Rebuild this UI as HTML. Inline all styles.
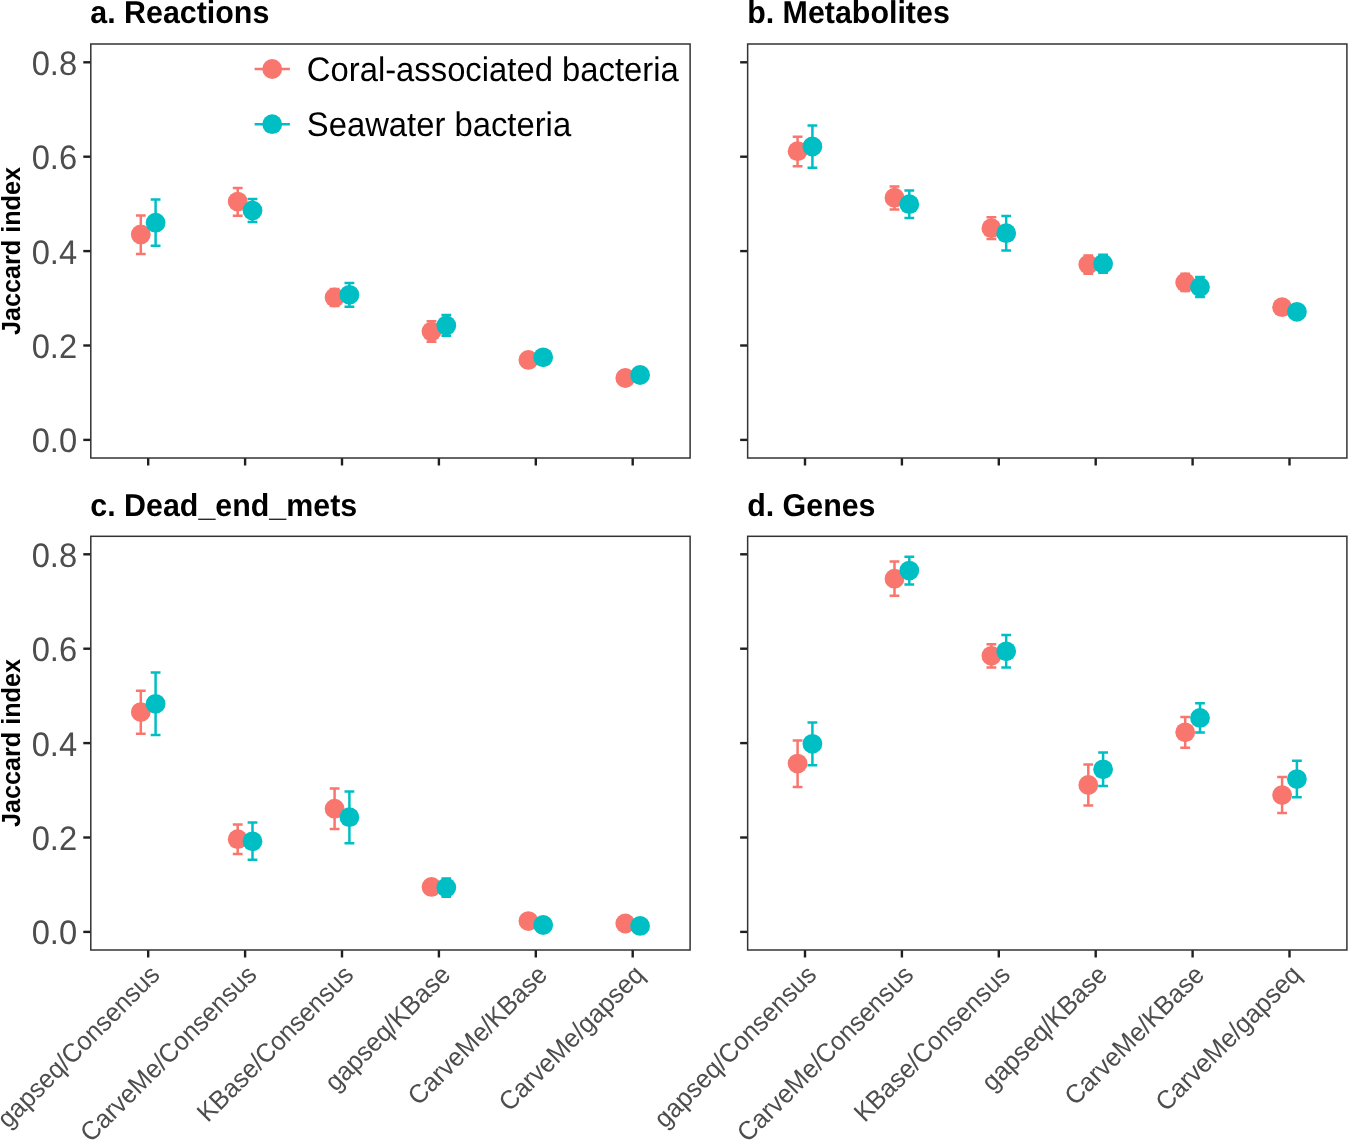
<!DOCTYPE html>
<html><head><meta charset="utf-8"><style>
html,body{margin:0;padding:0;background:#fff;}
svg{display:block;will-change:transform;}
text{font-family:"Liberation Sans",sans-serif;text-rendering:geometricPrecision;}
.ttl{font-size:30.4px;font-weight:bold;fill:#000;}
.ax{font-size:32.7px;fill:#4D4D4D;}
.xl{font-size:25.3px;fill:#4D4D4D;}
.yt{font-size:25.2px;font-weight:bold;fill:#000;}
.lg{font-size:32.8px;fill:#000;}
.tk{stroke:#1f1f1f;stroke-width:2.4;}
.bd{fill:none;stroke:#333;stroke-width:1.5;}
.eb path{fill:none;stroke-width:2.5;}
</style></head><body>
<svg width="1350" height="1141" viewBox="0 0 1350 1141">
<rect width="1350" height="1141" fill="#fff"/>
<text transform="translate(90.3 23.2) scale(1 1.04)" class="ttl">a. Reactions</text>
<line x1="83.3" y1="439.9" x2="90.8" y2="439.9" class="tk"/>
<text transform="translate(77.1 452.45) scale(1 1.04)" class="ax" text-anchor="end">0.0</text>
<line x1="83.3" y1="345.5" x2="90.8" y2="345.5" class="tk"/>
<text transform="translate(77.1 358.05) scale(1 1.04)" class="ax" text-anchor="end">0.2</text>
<line x1="83.3" y1="251.1" x2="90.8" y2="251.1" class="tk"/>
<text transform="translate(77.1 263.65) scale(1 1.04)" class="ax" text-anchor="end">0.4</text>
<line x1="83.3" y1="156.7" x2="90.8" y2="156.7" class="tk"/>
<text transform="translate(77.1 169.25) scale(1 1.04)" class="ax" text-anchor="end">0.6</text>
<line x1="83.3" y1="62.3" x2="90.8" y2="62.3" class="tk"/>
<text transform="translate(77.1 74.85) scale(1 1.04)" class="ax" text-anchor="end">0.8</text>
<line x1="148.2" y1="458" x2="148.2" y2="465.5" class="tk"/>
<line x1="245.1" y1="458" x2="245.1" y2="465.5" class="tk"/>
<line x1="342" y1="458" x2="342" y2="465.5" class="tk"/>
<line x1="438.9" y1="458" x2="438.9" y2="465.5" class="tk"/>
<line x1="535.8" y1="458" x2="535.8" y2="465.5" class="tk"/>
<line x1="632.7" y1="458" x2="632.7" y2="465.5" class="tk"/>
<g class="eb"><path d="M135.9 215.4H145.7M140.8 215.4V254M135.9 254H145.7" stroke="#F8766D"/><path d="M150.7 199.5H160.5M155.6 199.5V245.8M150.7 245.8H160.5" stroke="#00BFC4"/><path d="M232.8 187.9H242.6M237.7 187.9V215.8M232.8 215.8H242.6" stroke="#F8766D"/><path d="M247.6 199.1H257.4M252.5 199.1V222.1M247.6 222.1H257.4" stroke="#00BFC4"/><path d="M329.7 288.9H339.5M334.6 288.9V306M329.7 306H339.5" stroke="#F8766D"/><path d="M344.5 282.9H354.3M349.4 282.9V306.8M344.5 306.8H354.3" stroke="#00BFC4"/><path d="M426.6 321.2H436.4M431.5 321.2V341.7M426.6 341.7H436.4" stroke="#F8766D"/><path d="M441.4 315H451.2M446.3 315V335.8M441.4 335.8H451.2" stroke="#00BFC4"/></g>
<circle cx="140.8" cy="234.4" r="9.9" fill="#F8766D"/>
<circle cx="237.7" cy="201.6" r="9.9" fill="#F8766D"/>
<circle cx="334.6" cy="297.4" r="9.9" fill="#F8766D"/>
<circle cx="431.5" cy="331.6" r="9.9" fill="#F8766D"/>
<circle cx="528.4" cy="359.9" r="9.9" fill="#F8766D"/>
<circle cx="625.3" cy="378" r="9.9" fill="#F8766D"/>
<circle cx="155.6" cy="222.7" r="9.9" fill="#00BFC4"/>
<circle cx="252.5" cy="210.5" r="9.9" fill="#00BFC4"/>
<circle cx="349.4" cy="294.8" r="9.9" fill="#00BFC4"/>
<circle cx="446.3" cy="325.5" r="9.9" fill="#00BFC4"/>
<circle cx="543.2" cy="357.3" r="9.9" fill="#00BFC4"/>
<circle cx="640.1" cy="375" r="9.9" fill="#00BFC4"/>
<rect x="90.8" y="44" width="599.3" height="414" class="bd"/>
<text transform="translate(747.15 23.2) scale(1 1.04)" class="ttl">b. Metabolites</text>
<line x1="740.15" y1="439.9" x2="747.65" y2="439.9" class="tk"/>
<line x1="740.15" y1="345.5" x2="747.65" y2="345.5" class="tk"/>
<line x1="740.15" y1="251.1" x2="747.65" y2="251.1" class="tk"/>
<line x1="740.15" y1="156.7" x2="747.65" y2="156.7" class="tk"/>
<line x1="740.15" y1="62.3" x2="747.65" y2="62.3" class="tk"/>
<line x1="805" y1="458" x2="805" y2="465.5" class="tk"/>
<line x1="901.9" y1="458" x2="901.9" y2="465.5" class="tk"/>
<line x1="998.8" y1="458" x2="998.8" y2="465.5" class="tk"/>
<line x1="1095.7" y1="458" x2="1095.7" y2="465.5" class="tk"/>
<line x1="1192.6" y1="458" x2="1192.6" y2="465.5" class="tk"/>
<line x1="1289.5" y1="458" x2="1289.5" y2="465.5" class="tk"/>
<g class="eb"><path d="M792.7 136.7H802.5M797.6 136.7V166.3M792.7 166.3H802.5" stroke="#F8766D"/><path d="M807.5 125.4H817.3M812.4 125.4V167.7M807.5 167.7H817.3" stroke="#00BFC4"/><path d="M889.6 186.4H899.4M894.5 186.4V209.6M889.6 209.6H899.4" stroke="#F8766D"/><path d="M904.4 190.6H914.2M909.3 190.6V218.1M904.4 218.1H914.2" stroke="#00BFC4"/><path d="M986.5 217.2H996.3M991.4 217.2V239.1M986.5 239.1H996.3" stroke="#F8766D"/><path d="M1001.3 216H1011.1M1006.2 216V250.4M1001.3 250.4H1011.1" stroke="#00BFC4"/><path d="M1083.4 255.6H1093.2M1088.3 255.6V273.7M1083.4 273.7H1093.2" stroke="#F8766D"/><path d="M1098.2 254.7H1108M1103.1 254.7V272.8M1098.2 272.8H1108" stroke="#00BFC4"/><path d="M1180.3 273.8H1190.1M1185.2 273.8V291M1180.3 291H1190.1" stroke="#F8766D"/><path d="M1195.1 277H1204.9M1200 277V297M1195.1 297H1204.9" stroke="#00BFC4"/></g>
<circle cx="797.6" cy="151.2" r="9.9" fill="#F8766D"/>
<circle cx="894.5" cy="197.7" r="9.9" fill="#F8766D"/>
<circle cx="991.4" cy="228.2" r="9.9" fill="#F8766D"/>
<circle cx="1088.3" cy="264.6" r="9.9" fill="#F8766D"/>
<circle cx="1185.2" cy="282.4" r="9.9" fill="#F8766D"/>
<circle cx="1282.1" cy="307.2" r="9.9" fill="#F8766D"/>
<circle cx="812.4" cy="146.5" r="9.9" fill="#00BFC4"/>
<circle cx="909.3" cy="204.2" r="9.9" fill="#00BFC4"/>
<circle cx="1006.2" cy="233.2" r="9.9" fill="#00BFC4"/>
<circle cx="1103.1" cy="263.8" r="9.9" fill="#00BFC4"/>
<circle cx="1200" cy="287" r="9.9" fill="#00BFC4"/>
<circle cx="1296.9" cy="311.8" r="9.9" fill="#00BFC4"/>
<rect x="747.65" y="44" width="599.25" height="414" class="bd"/>
<text transform="translate(90.3 515.5) scale(1 1.04)" class="ttl">c. Dead_end_mets</text>
<line x1="83.3" y1="931.9" x2="90.8" y2="931.9" class="tk"/>
<text transform="translate(77.1 944.45) scale(1 1.04)" class="ax" text-anchor="end">0.0</text>
<line x1="83.3" y1="837.5" x2="90.8" y2="837.5" class="tk"/>
<text transform="translate(77.1 850.05) scale(1 1.04)" class="ax" text-anchor="end">0.2</text>
<line x1="83.3" y1="743.1" x2="90.8" y2="743.1" class="tk"/>
<text transform="translate(77.1 755.65) scale(1 1.04)" class="ax" text-anchor="end">0.4</text>
<line x1="83.3" y1="648.7" x2="90.8" y2="648.7" class="tk"/>
<text transform="translate(77.1 661.25) scale(1 1.04)" class="ax" text-anchor="end">0.6</text>
<line x1="83.3" y1="554.3" x2="90.8" y2="554.3" class="tk"/>
<text transform="translate(77.1 566.85) scale(1 1.04)" class="ax" text-anchor="end">0.8</text>
<line x1="148.2" y1="950" x2="148.2" y2="957.5" class="tk"/>
<text class="xl" text-anchor="end" transform="translate(161.2 976.2) rotate(-45) scale(1 1.04)">gapseq/Consensus</text>
<line x1="245.1" y1="950" x2="245.1" y2="957.5" class="tk"/>
<text class="xl" text-anchor="end" transform="translate(258.1 976.2) rotate(-45) scale(1 1.04)">CarveMe/Consensus</text>
<line x1="342" y1="950" x2="342" y2="957.5" class="tk"/>
<text class="xl" text-anchor="end" transform="translate(355 976.2) rotate(-45) scale(1 1.04)">KBase/Consensus</text>
<line x1="438.9" y1="950" x2="438.9" y2="957.5" class="tk"/>
<text class="xl" text-anchor="end" transform="translate(451.9 976.2) rotate(-45) scale(1 1.04)">gapseq/KBase</text>
<line x1="535.8" y1="950" x2="535.8" y2="957.5" class="tk"/>
<text class="xl" text-anchor="end" transform="translate(548.8 976.2) rotate(-45) scale(1 1.04)">CarveMe/KBase</text>
<line x1="632.7" y1="950" x2="632.7" y2="957.5" class="tk"/>
<text class="xl" text-anchor="end" transform="translate(645.7 976.2) rotate(-45) scale(1 1.04)">CarveMe/gapseq</text>
<g class="eb"><path d="M135.9 690.8H145.7M140.8 690.8V733.7M135.9 733.7H145.7" stroke="#F8766D"/><path d="M150.7 672.5H160.5M155.6 672.5V735.1M150.7 735.1H160.5" stroke="#00BFC4"/><path d="M232.8 824.4H242.6M237.7 824.4V854M232.8 854H242.6" stroke="#F8766D"/><path d="M247.6 822.5H257.4M252.5 822.5V859.7M247.6 859.7H257.4" stroke="#00BFC4"/><path d="M329.7 788.4H339.5M334.6 788.4V828.9M329.7 828.9H339.5" stroke="#F8766D"/><path d="M344.5 791.5H354.3M349.4 791.5V843.3M344.5 843.3H354.3" stroke="#00BFC4"/><path d="M441.4 878.5H451.2M446.3 878.5V896.7M441.4 896.7H451.2" stroke="#00BFC4"/></g>
<circle cx="140.8" cy="712.1" r="9.9" fill="#F8766D"/>
<circle cx="237.7" cy="839.2" r="9.9" fill="#F8766D"/>
<circle cx="334.6" cy="808.7" r="9.9" fill="#F8766D"/>
<circle cx="431.5" cy="886.9" r="9.9" fill="#F8766D"/>
<circle cx="528.4" cy="921.1" r="9.9" fill="#F8766D"/>
<circle cx="625.3" cy="923.5" r="9.9" fill="#F8766D"/>
<circle cx="155.6" cy="703.8" r="9.9" fill="#00BFC4"/>
<circle cx="252.5" cy="841.3" r="9.9" fill="#00BFC4"/>
<circle cx="349.4" cy="817.2" r="9.9" fill="#00BFC4"/>
<circle cx="446.3" cy="887.6" r="9.9" fill="#00BFC4"/>
<circle cx="543.2" cy="925" r="9.9" fill="#00BFC4"/>
<circle cx="640.1" cy="925.9" r="9.9" fill="#00BFC4"/>
<rect x="90.8" y="536.3" width="599.3" height="413.7" class="bd"/>
<text transform="translate(747.15 515.5) scale(1 1.04)" class="ttl">d. Genes</text>
<line x1="740.15" y1="931.9" x2="747.65" y2="931.9" class="tk"/>
<line x1="740.15" y1="837.5" x2="747.65" y2="837.5" class="tk"/>
<line x1="740.15" y1="743.1" x2="747.65" y2="743.1" class="tk"/>
<line x1="740.15" y1="648.7" x2="747.65" y2="648.7" class="tk"/>
<line x1="740.15" y1="554.3" x2="747.65" y2="554.3" class="tk"/>
<line x1="805" y1="950" x2="805" y2="957.5" class="tk"/>
<text class="xl" text-anchor="end" transform="translate(818 976.2) rotate(-45) scale(1 1.04)">gapseq/Consensus</text>
<line x1="901.9" y1="950" x2="901.9" y2="957.5" class="tk"/>
<text class="xl" text-anchor="end" transform="translate(914.9 976.2) rotate(-45) scale(1 1.04)">CarveMe/Consensus</text>
<line x1="998.8" y1="950" x2="998.8" y2="957.5" class="tk"/>
<text class="xl" text-anchor="end" transform="translate(1011.8 976.2) rotate(-45) scale(1 1.04)">KBase/Consensus</text>
<line x1="1095.7" y1="950" x2="1095.7" y2="957.5" class="tk"/>
<text class="xl" text-anchor="end" transform="translate(1108.7 976.2) rotate(-45) scale(1 1.04)">gapseq/KBase</text>
<line x1="1192.6" y1="950" x2="1192.6" y2="957.5" class="tk"/>
<text class="xl" text-anchor="end" transform="translate(1205.6 976.2) rotate(-45) scale(1 1.04)">CarveMe/KBase</text>
<line x1="1289.5" y1="950" x2="1289.5" y2="957.5" class="tk"/>
<text class="xl" text-anchor="end" transform="translate(1302.5 976.2) rotate(-45) scale(1 1.04)">CarveMe/gapseq</text>
<g class="eb"><path d="M792.7 740.6H802.5M797.6 740.6V786.9M792.7 786.9H802.5" stroke="#F8766D"/><path d="M807.5 722.6H817.3M812.4 722.6V765.2M807.5 765.2H817.3" stroke="#00BFC4"/><path d="M889.6 561.5H899.4M894.5 561.5V595.7M889.6 595.7H899.4" stroke="#F8766D"/><path d="M904.4 556.7H914.2M909.3 556.7V584.4M904.4 584.4H914.2" stroke="#00BFC4"/><path d="M986.5 644.2H996.3M991.4 644.2V667.6M986.5 667.6H996.3" stroke="#F8766D"/><path d="M1001.3 634.9H1011.1M1006.2 634.9V667.6M1001.3 667.6H1011.1" stroke="#00BFC4"/><path d="M1083.4 764.4H1093.2M1088.3 764.4V805.5M1083.4 805.5H1093.2" stroke="#F8766D"/><path d="M1098.2 752.6H1108M1103.1 752.6V786.1M1098.2 786.1H1108" stroke="#00BFC4"/><path d="M1180.3 717H1190.1M1185.2 717V747.7M1180.3 747.7H1190.1" stroke="#F8766D"/><path d="M1195.1 703.2H1204.9M1200 703.2V732.5M1195.1 732.5H1204.9" stroke="#00BFC4"/><path d="M1277.2 777H1287M1282.1 777V813.1M1277.2 813.1H1287" stroke="#F8766D"/><path d="M1292 760.7H1301.8M1296.9 760.7V797.2M1292 797.2H1301.8" stroke="#00BFC4"/></g>
<circle cx="797.6" cy="763.6" r="9.9" fill="#F8766D"/>
<circle cx="894.5" cy="578.7" r="9.9" fill="#F8766D"/>
<circle cx="991.4" cy="655.8" r="9.9" fill="#F8766D"/>
<circle cx="1088.3" cy="785" r="9.9" fill="#F8766D"/>
<circle cx="1185.2" cy="732.3" r="9.9" fill="#F8766D"/>
<circle cx="1282.1" cy="795.1" r="9.9" fill="#F8766D"/>
<circle cx="812.4" cy="743.8" r="9.9" fill="#00BFC4"/>
<circle cx="909.3" cy="570.6" r="9.9" fill="#00BFC4"/>
<circle cx="1006.2" cy="651.3" r="9.9" fill="#00BFC4"/>
<circle cx="1103.1" cy="769.3" r="9.9" fill="#00BFC4"/>
<circle cx="1200" cy="717.9" r="9.9" fill="#00BFC4"/>
<circle cx="1296.9" cy="779.1" r="9.9" fill="#00BFC4"/>
<rect x="747.65" y="536.3" width="599.25" height="413.7" class="bd"/>
<text x="0" y="0" class="yt" text-anchor="middle" transform="translate(19.6 251) rotate(-90) scale(1 1.04)">Jaccard index</text>
<text x="0" y="0" class="yt" text-anchor="middle" transform="translate(19.6 743) rotate(-90) scale(1 1.04)">Jaccard index</text>
<line x1="254.6" y1="69" x2="289.9" y2="69" stroke="#F8766D" stroke-width="2.5"/>
<circle cx="272.2" cy="69" r="9.9" fill="#F8766D"/>
<text transform="translate(306.8 80.6) scale(1 1.04)" class="lg">Coral-associated bacteria</text>
<line x1="254.6" y1="124.2" x2="289.9" y2="124.2" stroke="#00BFC4" stroke-width="2.5"/>
<circle cx="272.2" cy="124.2" r="9.9" fill="#00BFC4"/>
<text transform="translate(306.8 135.8) scale(1 1.04)" class="lg">Seawater bacteria</text>
</svg>
</body></html>
